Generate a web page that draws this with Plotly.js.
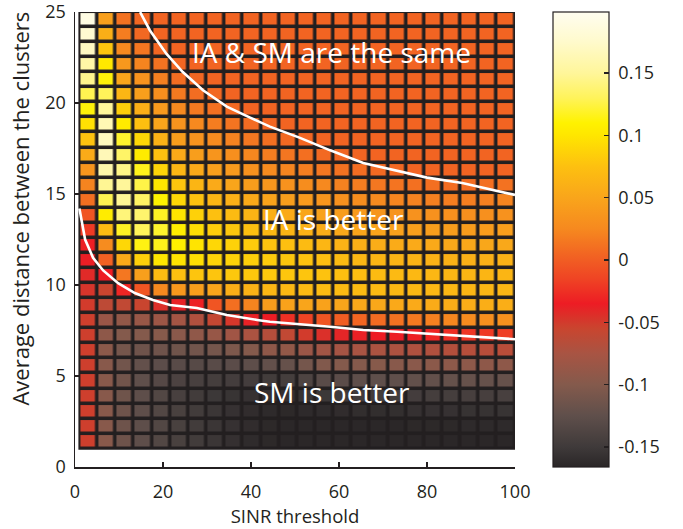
<!DOCTYPE html>
<html><head><meta charset="utf-8">
<script src="https://cdn.plot.ly/plotly-3.0.1.min.js"></script>
<style>html,body{margin:0;padding:0;background:#fff}#chart{width:683px;height:529px}</style>
</head><body><div id="chart"></div>
<script>
// cell edges (SINR threshold, cluster distance)
const xEdges = [1, 5.125, 9.25, 13.375, 17.5, 21.625, 25.75, 29.875, 34, 38.125, 42.25, 46.375, 50.5,
  54.625, 58.75, 62.875, 67, 71.125, 75.25, 79.375, 83.5, 87.625, 91.75, 95.875, 100];
const yEdges = [1, 1.8276, 2.6552, 3.4828, 4.3103, 5.1379, 5.9655, 6.7931, 7.6207, 8.4483, 9.2759,
  10.1034, 10.931, 11.7586, 12.5862, 13.4138, 14.2414, 15.069, 15.8966, 16.7241, 17.5517, 18.3793,
  19.2069, 20.0345, 20.8621, 21.6897, 22.5172, 23.3448, 24.1724, 25];

// cell values, one array per SINR column, listed from the top row (distance 25) down
const columnValues = [
  [0.19, 0.178, 0.17, 0.156, 0.146, 0.128, 0.112, 0.096, 0.076, 0.056, 0.036, 0.022, 0.01, -0.005, -0.02, -0.034, -0.036, -0.042, -0.047, -0.05, -0.052, -0.052, -0.052, -0.052, -0.052, -0.052, -0.052, -0.052, -0.052],
  [0.045, 0.058, 0.078, 0.102, 0.112, 0.13, 0.15, 0.163, 0.168, 0.165, 0.158, 0.148, 0.128, 0.105, 0.07, 0.028, 0.002, -0.035, -0.055, -0.062, -0.085, -0.093, -0.095, -0.097, -0.097, -0.097, -0.097, -0.097, -0.097],
  [0.012, 0.018, 0.025, 0.038, 0.05, 0.066, 0.084, 0.104, 0.12, 0.134, 0.144, 0.15, 0.148, 0.14, 0.118, 0.09, 0.055, 0.015, -0.03, -0.06, -0.09, -0.1, -0.11, -0.112, -0.113, -0.114, -0.115, -0.115, -0.115],
  [0.005, 0.006, 0.014, 0.022, 0.034, 0.045, 0.058, 0.074, 0.09, 0.104, 0.116, 0.126, 0.133, 0.136, 0.13, 0.114, 0.085, 0.045, -0.005, -0.055, -0.087, -0.1, -0.115, -0.122, -0.125, -0.126, -0.126, -0.126, -0.126],
  [0.004, 0.004, 0.005, 0.012, 0.02, 0.03, 0.04, 0.05, 0.062, 0.075, 0.088, 0.1, 0.11, 0.118, 0.12, 0.116, 0.1, 0.07, 0.025, -0.045, -0.083, -0.098, -0.115, -0.127, -0.133, -0.135, -0.135, -0.135, -0.135],
  [0.004, 0.004, 0.004, 0.005, 0.009, 0.016, 0.025, 0.034, 0.044, 0.055, 0.066, 0.078, 0.09, 0.1, 0.107, 0.108, 0.098, 0.075, 0.038, -0.038, -0.078, -0.096, -0.114, -0.13, -0.14, -0.143, -0.142, -0.142, -0.142],
  [0.004, 0.004, 0.004, 0.004, 0.005, 0.009, 0.016, 0.025, 0.034, 0.044, 0.054, 0.065, 0.076, 0.086, 0.094, 0.099, 0.095, 0.078, 0.045, -0.033, -0.07, -0.092, -0.112, -0.131, -0.143, -0.148, -0.148, -0.148, -0.148],
  [0.004, 0.004, 0.004, 0.004, 0.004, 0.006, 0.011, 0.018, 0.027, 0.036, 0.045, 0.055, 0.065, 0.075, 0.083, 0.09, 0.088, 0.078, 0.05, -0.005, -0.058, -0.087, -0.11, -0.13, -0.145, -0.152, -0.153, -0.153, -0.153],
  [0.004, 0.004, 0.004, 0.004, 0.004, 0.004, 0.007, 0.013, 0.021, 0.03, 0.04, 0.05, 0.06, 0.07, 0.079, 0.086, 0.087, 0.08, 0.058, 0.01, -0.048, -0.08, -0.105, -0.128, -0.146, -0.155, -0.157, -0.157, -0.158],
  [0.004, 0.004, 0.004, 0.004, 0.004, 0.004, 0.004, 0.008, 0.015, 0.024, 0.033, 0.043, 0.054, 0.064, 0.074, 0.082, 0.085, 0.08, 0.062, 0.022, -0.038, -0.073, -0.1, -0.126, -0.146, -0.157, -0.161, -0.161, -0.162],
  [0.004, 0.004, 0.004, 0.004, 0.004, 0.004, 0.004, 0.005, 0.01, 0.018, 0.027, 0.037, 0.048, 0.058, 0.068, 0.077, 0.082, 0.08, 0.066, 0.042, -0.035, -0.067, -0.093, -0.122, -0.148, -0.158, -0.163, -0.164, -0.164],
  [0.004, 0.004, 0.004, 0.004, 0.004, 0.004, 0.004, 0.004, 0.007, 0.014, 0.023, 0.033, 0.044, 0.055, 0.065, 0.074, 0.079, 0.079, 0.068, 0.047, -0.025, -0.06, -0.09, -0.12, -0.145, -0.158, -0.164, -0.165, -0.165],
  [0.004, 0.004, 0.004, 0.004, 0.004, 0.004, 0.004, 0.004, 0.005, 0.01, 0.019, 0.029, 0.04, 0.051, 0.061, 0.07, 0.076, 0.078, 0.069, 0.05, -0.015, -0.05, -0.085, -0.11, -0.138, -0.155, -0.163, -0.165, -0.165],
  [0.004, 0.004, 0.004, 0.004, 0.004, 0.004, 0.004, 0.004, 0.004, 0.007, 0.015, 0.025, 0.036, 0.047, 0.057, 0.066, 0.073, 0.076, 0.07, 0.047, -0.005, -0.045, -0.08, -0.102, -0.13, -0.152, -0.162, -0.165, -0.165],
  [0.004, 0.004, 0.004, 0.004, 0.004, 0.004, 0.004, 0.004, 0.004, 0.005, 0.012, 0.021, 0.032, 0.043, 0.053, 0.062, 0.07, 0.074, 0.07, 0.05, 0.0, -0.04, -0.077, -0.1, -0.128, -0.15, -0.161, -0.165, -0.165],
  [0.004, 0.004, 0.004, 0.004, 0.004, 0.004, 0.004, 0.004, 0.004, 0.004, 0.009, 0.018, 0.029, 0.04, 0.05, 0.059, 0.067, 0.072, 0.07, 0.052, 0.005, -0.037, -0.075, -0.099, -0.126, -0.149, -0.16, -0.165, -0.165],
  [0.004, 0.004, 0.004, 0.004, 0.004, 0.004, 0.004, 0.004, 0.004, 0.004, 0.007, 0.015, 0.026, 0.037, 0.048, 0.057, 0.065, 0.07, 0.069, 0.053, 0.008, -0.035, -0.073, -0.098, -0.125, -0.148, -0.16, -0.165, -0.165],
  [0.004, 0.004, 0.004, 0.004, 0.004, 0.004, 0.004, 0.004, 0.004, 0.004, 0.006, 0.013, 0.023, 0.035, 0.046, 0.056, 0.064, 0.069, 0.068, 0.054, 0.012, -0.034, -0.072, -0.097, -0.124, -0.147, -0.159, -0.165, -0.165],
  [0.004, 0.004, 0.004, 0.004, 0.004, 0.004, 0.004, 0.004, 0.004, 0.004, 0.004, 0.011, 0.021, 0.033, 0.045, 0.055, 0.063, 0.068, 0.068, 0.055, 0.016, -0.033, -0.071, -0.096, -0.123, -0.146, -0.158, -0.164, -0.165],
  [0.004, 0.004, 0.004, 0.004, 0.004, 0.004, 0.004, 0.004, 0.004, 0.004, 0.004, 0.01, 0.02, 0.032, 0.044, 0.054, 0.062, 0.067, 0.067, 0.056, 0.02, -0.03, -0.07, -0.095, -0.122, -0.145, -0.157, -0.164, -0.165],
  [0.004, 0.004, 0.004, 0.004, 0.004, 0.004, 0.004, 0.004, 0.004, 0.004, 0.004, 0.009, 0.019, 0.031, 0.043, 0.053, 0.061, 0.066, 0.067, 0.057, 0.024, -0.026, -0.068, -0.094, -0.121, -0.145, -0.157, -0.164, -0.165],
  [0.004, 0.004, 0.004, 0.004, 0.004, 0.004, 0.004, 0.004, 0.004, 0.004, 0.004, 0.009, 0.019, 0.03, 0.042, 0.052, 0.06, 0.065, 0.066, 0.057, 0.028, -0.022, -0.067, -0.094, -0.12, -0.144, -0.156, -0.163, -0.165],
  [0.004, 0.004, 0.004, 0.004, 0.004, 0.004, 0.004, 0.004, 0.004, 0.004, 0.004, 0.01, 0.02, 0.031, 0.042, 0.052, 0.06, 0.065, 0.066, 0.058, 0.03, -0.02, -0.066, -0.093, -0.12, -0.144, -0.156, -0.163, -0.165],
  [0.004, 0.004, 0.004, 0.004, 0.004, 0.004, 0.004, 0.004, 0.004, 0.004, 0.004, 0.012, 0.022, 0.033, 0.044, 0.053, 0.061, 0.065, 0.066, 0.058, 0.032, -0.018, -0.065, -0.093, -0.12, -0.143, -0.155, -0.163, -0.165]
];

// white boundary curves
const upperX = [14.8, 17.0, 20.8, 24.5, 29.1, 34.5, 39.8, 44.3, 51, 58, 65.5, 74.5, 80, 88, 98, 100];
const upperY = [25.0, 24.0, 22.7, 21.7, 20.7, 19.8, 19.2, 18.7, 18.1, 17.4, 16.7, 16.2, 15.9, 15.6, 15.05, 14.95];
const lowerX = [1, 2.3, 4.1, 6.4, 9.8, 13.6, 17.7, 21.6, 27.7, 34.5, 41.4, 44.3, 58, 65.5, 73.2, 80.7, 88.2, 95.9, 100];
const lowerY = [14.2, 12.5, 11.5, 10.8, 10.1, 9.56, 9.18, 8.9, 8.74, 8.35, 8.08, 7.98, 7.71, 7.53, 7.43, 7.31, 7.21, 7.1, 7.02];

const xTicks = [0, 20, 40, 60, 80, 100];
const yTicks = [0, 5, 10, 15, 20, 25];
const cbTicks = [-0.15, -0.1, -0.05, 0, 0.05, 0.1, 0.15];
const cbLabels = ['-0.15', '-0.1', '-0.05', '0', '0.05', '0.1', '0.15'];
const cMin = -0.166, cMax = 0.199;

const colorStops = [
  [-0.166, '#2a2627'], [-0.15, '#3f3a3a'], [-0.125, '#5f4f4b'], [-0.1, '#845a4c'],
  [-0.075, '#a85443'], [-0.055, '#c9452f'], [-0.035, '#ed1c24'], [-0.015, '#ef4424'],
  [0.0, '#f15d23'], [0.025, '#f6891f'], [0.05, '#f9a51b'], [0.075, '#fdc010'],
  [0.1, '#ffe600'], [0.11, '#fff200'], [0.13, '#fff35a'], [0.15, '#fff69a'],
  [0.175, '#fffacc'], [0.199, '#fffdf0']
];
const colorscale = colorStops.map(s => [Math.min(1, Math.max(0, (s[0] - cMin) / (cMax - cMin))), s[1]]);

const nRows = yEdges.length - 1;
const z = [];
for (let i = 0; i < nRows; i++) {
  z.push(columnValues.map(col => col[nRows - 1 - i]));
}

const dark = '#231f20';
const fontFam = '"Open Sans", "Noto Sans", sans-serif';

const traces = [
  {
    type: 'heatmap', x: xEdges, y: yEdges, z: z,
    colorscale: colorscale, zmin: cMin, zmax: cMax,
    xgap: 3.5, ygap: 3.5, hoverinfo: 'skip',
    colorbar: {
      x: 1.086, xanchor: 'left', xpad: 0, y: 0.5, yanchor: 'middle', ypad: 0,
      len: 1, lenmode: 'fraction', thickness: 56, thicknessmode: 'pixels',
      outlinewidth: 1.2, outlinecolor: dark,
      tickvals: cbTicks, ticktext: cbLabels.map(t => '\u00a0' + t), ticks: 'inside', ticklen: 5, tickwidth: 1.2, tickcolor: dark,
      tickfont: {family: fontFam, size: 18, color: dark}
    }
  },
  {type: 'scatter', mode: 'lines', x: upperX, y: upperY, line: {color: '#ffffff', width: 2.6}, hoverinfo: 'skip', showlegend: false},
  {type: 'scatter', mode: 'lines', x: lowerX, y: lowerY, line: {color: '#ffffff', width: 2.6}, hoverinfo: 'skip', showlegend: false}
];

const layout = {
  width: 683, height: 529,
  margin: {l: 75, r: 168, t: 12, b: 62, pad: 0},
  paper_bgcolor: '#ffffff', plot_bgcolor: '#ffffff',
  font: {family: fontFam, size: 18, color: dark},
  showlegend: false,
  xaxis: {
    range: [0, 100.001], tickvals: xTicks, ticks: 'inside', ticklen: 5, tickwidth: 1.5, tickcolor: dark,
    showline: true, linecolor: dark, linewidth: 1.5, showgrid: false, zeroline: false,
    tickfont: {family: fontFam, size: 18, color: dark}, ticklabelstandoff: 8, ticklabeloverflow: 'allow',
    title: {text: 'SINR threshold', font: {family: fontFam, size: 18.5, color: dark}, standoff: 4}
  },
  yaxis: {
    range: [0, 25.001], tickvals: yTicks, ticktext: yTicks.map(String), tickmode: 'array',
    ticks: 'inside', ticklen: 5, tickwidth: 1.5, tickcolor: dark,
    showline: true, linecolor: dark, linewidth: 1.5, showgrid: false, zeroline: false,
    tickfont: {family: fontFam, size: 18, color: dark}, ticklabelstandoff: 4, ticklabeloverflow: 'allow'
  },
  shapes: [{
    type: 'rect', layer: 'below', xref: 'x', yref: 'y',
    x0: xEdges[0], x1: xEdges[xEdges.length - 1], y0: yEdges[0], y1: yEdges[yEdges.length - 1],
    fillcolor: dark, line: {color: dark, width: 2}
  }],
  annotations: [
    {x: 58.2, y: 22.8, xref: 'x', yref: 'y', text: 'IA &amp; SM are the same', showarrow: false, font: {family: fontFam, size: 28, color: '#ffffff'}},
    {x: 58.7, y: 13.6, xref: 'x', yref: 'y', text: 'IA is better', showarrow: false, font: {family: fontFam, size: 28, color: '#ffffff'}},
    {x: 58.5, y: 4.1, xref: 'x', yref: 'y', text: 'SM is better', showarrow: false, font: {family: fontFam, size: 28, color: '#ffffff'}},
    {x: -0.125, y: 0.568, xref: 'paper', yref: 'paper', xanchor: 'center', yanchor: 'middle', textangle: -90,
     text: 'Average distance between the clusters', showarrow: false, font: {family: fontFam, size: 22, color: dark}}
  ]
};

Plotly.newPlot('chart', traces, layout, {displayModeBar: false, staticPlot: true});
</script>
</body></html>
